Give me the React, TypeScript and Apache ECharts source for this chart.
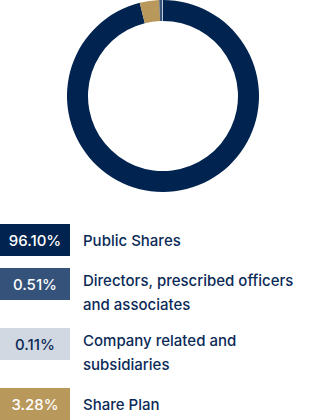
import React, { useEffect, useRef } from "react";
import * as echarts from "echarts";

const categories = [
  "Public Shares",
  "Directors, prescribed officers\nand associates",
  "Company related and\nsubsidiaries",
  "Share Plan",
];
const values = [96.1, 0.51, 0.11, 3.28];
const valueLabels = ["96.10%", "0.51%", "0.11%", "3.28%"];
const colors = ["#00234f", "#34527a", "#d1d8e2", "#b9985c"];
const labelColors = ["#ffffff", "#ffffff", "#0b2a57", "#ffffff"];
// clockwise order of slices starting at 12 o'clock
const pieOrder = [0, 3, 1, 2];
const rowTops = [224, 268, 328, 388];

export default function App() {
  const ref = useRef<HTMLDivElement>(null);
  useEffect(() => {
    if (!ref.current) return;
    const chart = echarts.init(ref.current, undefined, { renderer: "svg" });
    const graphics: any[] = [];
    categories.forEach((c, i) => {
      const top = rowTops[i];
      graphics.push({
        type: "rect",
        shape: { x: 0, y: top, width: 70, height: 32 },
        style: { fill: colors[i] },
      });
      graphics.push({
        type: "text",
        x: 35,
        y: top + 16,
        style: {
          text: valueLabels[i],
          fill: labelColors[i],
          font: "500 15px Inter",
          align: "center",
          verticalAlign: "middle",
        },
      });
      const multi = c.indexOf("\n") >= 0;
      graphics.push({
        type: "text",
        x: 83,
        y: multi ? top : top + 16,
        style: {
          text: c,
          fill: "#0b2a57",
          font: "500 15px Inter",
          lineHeight: 24,
          align: "left",
          verticalAlign: multi ? "top" : "middle",
        },
      });
    });
    chart.setOption({
      animation: false,
      series: [
        {
          type: "pie",
          center: [163, 96],
          radius: [75, 96],
          startAngle: 90,
          clockwise: true,
          label: { show: false },
          labelLine: { show: false },
          emphasis: { disabled: true },
          itemStyle: { borderWidth: 0 },
          data: pieOrder.map((i) => ({
            name: categories[i],
            value: values[i],
            itemStyle: { color: colors[i] },
          })),
        },
      ],
      graphic: graphics,
    });
    return () => chart.dispose();
  }, []);
  return (
    <div
      ref={ref}
      style={{ position: "absolute", left: 0, top: 0, width: 327, height: 420 }}
    />
  );
}
